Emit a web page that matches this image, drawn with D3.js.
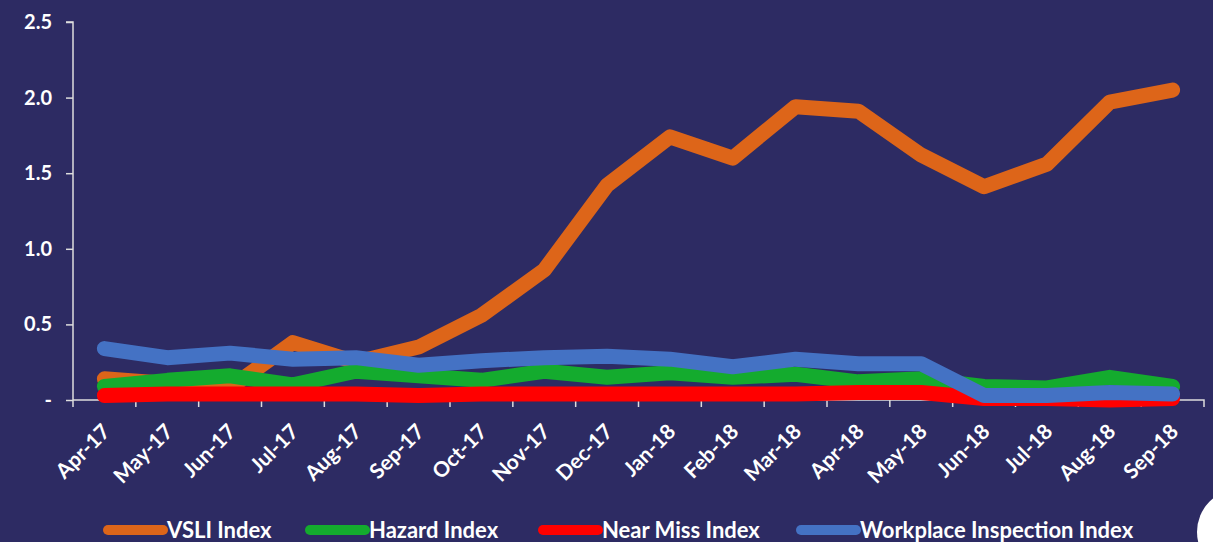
<!DOCTYPE html>
<html lang="en">
<head>
    <meta charset="UTF-8">
    <title>Safety Indices</title>
    <style>
        body {
            margin: 0;
            padding: 0;
            background-color: #2d2b63;
            overflow: hidden;
        }
        #chart text {
            font-family: 'Lato', sans-serif;
            font-weight: bold;
            fill: #fff;
        }
    </style>
    <script src="https://d3js.org/d3.v7.min.js"></script>
</head>
<body>
<div id="chart"></div>
<script>
    const months = ["Apr-17", "May-17", "Jun-17", "Jul-17", "Aug-17", "Sep-17", "Oct-17", "Nov-17", "Dec-17",
        "Jan-18", "Feb-18", "Mar-18", "Apr-18", "May-18", "Jun-18", "Jul-18", "Aug-18", "Sep-18"];

    const vsli = [0.14, 0.11, 0.08, 0.38, 0.25, 0.35, 0.56, 0.86, 1.42, 1.74, 1.60, 1.94, 1.91, 1.62, 1.41, 1.56, 1.97, 2.05];
    const hazard = [0.09, 0.13, 0.16, 0.10, 0.19, 0.16, 0.13, 0.19, 0.15, 0.18, 0.15, 0.17, 0.12, 0.14, 0.09, 0.08, 0.15, 0.09];
    const nearMiss = [0.03, 0.04, 0.04, 0.04, 0.04, 0.03, 0.04, 0.04, 0.04, 0.04, 0.04, 0.04, 0.05, 0.05, 0.01, 0.01, 0.00, 0.01];
    const workplace = [0.34, 0.28, 0.31, 0.27, 0.28, 0.23, 0.26, 0.28, 0.29, 0.27, 0.22, 0.27, 0.24, 0.24, 0.03, 0.03, 0.05, 0.04];

    const yTicks = [0, 0.5, 1.0, 1.5, 2.0, 2.5];

    const series = [
        {name: "VSLI Index", values: vsli, color: "#dd6519"},
        {name: "Hazard Index", values: hazard, color: "#14ab2e"},
        {name: "Near Miss Index", values: nearMiss, color: "#ff0000"},
        {name: "Workplace Inspection Index", values: workplace, color: "#4472c4"}
    ];

    const width = 1213, height = 542;
    const plotLeft = 73, plotRight = 1204, plotTop = 22, plotBottom = 400;

    const svg = d3.select("#chart").append("svg")
        .attr("width", width)
        .attr("height", height);

    svg.append("rect")
        .attr("width", width)
        .attr("height", height)
        .attr("fill", "#2d2b63");

    const x = d3.scaleBand()
        .domain(months)
        .range([plotLeft, plotRight]);

    const y = d3.scaleLinear()
        .domain([0, 2.5])
        .range([plotBottom, plotTop]);

    // y axis
    const yAxis = svg.append("g")
        .attr("transform", "translate(" + plotLeft + ",0)")
        .call(d3.axisLeft(y).tickValues(yTicks).tickSize(7).tickPadding(14)
            .tickFormat(d => d === 0 ? "-" : d3.format(".1f")(d)));
    yAxis.select(".domain").attr("stroke", "#ddd").attr("stroke-width", 1.5)
        .attr("d", "M-7," + plotTop + "H0V" + (plotBottom + 7));
    yAxis.selectAll(".tick line").attr("stroke", "#ddd").attr("stroke-width", 1.5);
    yAxis.selectAll("text").style("font-size", "20px");

    // x axis, ticks on category boundaries
    const xAxis = svg.append("g")
        .attr("transform", "translate(0," + plotBottom + ")");
    xAxis.append("path")
        .attr("d", "M" + plotLeft + ",0H" + plotRight + "V7")
        .attr("stroke", "#ddd")
        .attr("stroke-width", 1.5)
        .attr("fill", "none");
    xAxis.selectAll(".tk")
        .data(months.slice(1))
        .join("line")
        .attr("x1", d => x(d))
        .attr("x2", d => x(d))
        .attr("y1", 0)
        .attr("y2", 7)
        .attr("stroke", "#ddd")
        .attr("stroke-width", 1.5);
    xAxis.selectAll(".lbl")
        .data(months)
        .join("text")
        .attr("text-anchor", "end")
        .attr("transform", d => "translate(" + (x(d) + x.bandwidth() / 2 + 7) + ",33) rotate(-45)")
        .style("font-size", "21px")
        .text(d => d);

    // lines
    const line = d3.line()
        .x((d, i) => x(months[i]) + x.bandwidth() / 2)
        .y(d => y(d));

    svg.selectAll(".series")
        .data(series)
        .join("path")
        .attr("d", d => line(d.values))
        .attr("fill", "none")
        .attr("stroke", d => d.color)
        .attr("stroke-width", 15)
        .attr("stroke-linecap", "round")
        .attr("stroke-linejoin", "round");

    // legend
    const legendX = [108, 310, 543, 801];
    const legend = svg.selectAll(".legend")
        .data(series)
        .join("g")
        .attr("transform", (d, i) => "translate(" + legendX[i] + ",530)");
    legend.append("line")
        .attr("x1", 0)
        .attr("x2", 55)
        .attr("stroke", d => d.color)
        .attr("stroke-width", 10)
        .attr("stroke-linecap", "round");
    legend.append("text")
        .attr("x", 59)
        .attr("dy", "0.35em")
        .style("font-size", "22px")
        .text(d => d.name);

    // corner badge
    svg.append("circle")
        .attr("cx", 1240)
        .attr("cy", 532)
        .attr("r", 43)
        .attr("fill", "#fff");
</script>
</body>
</html>
